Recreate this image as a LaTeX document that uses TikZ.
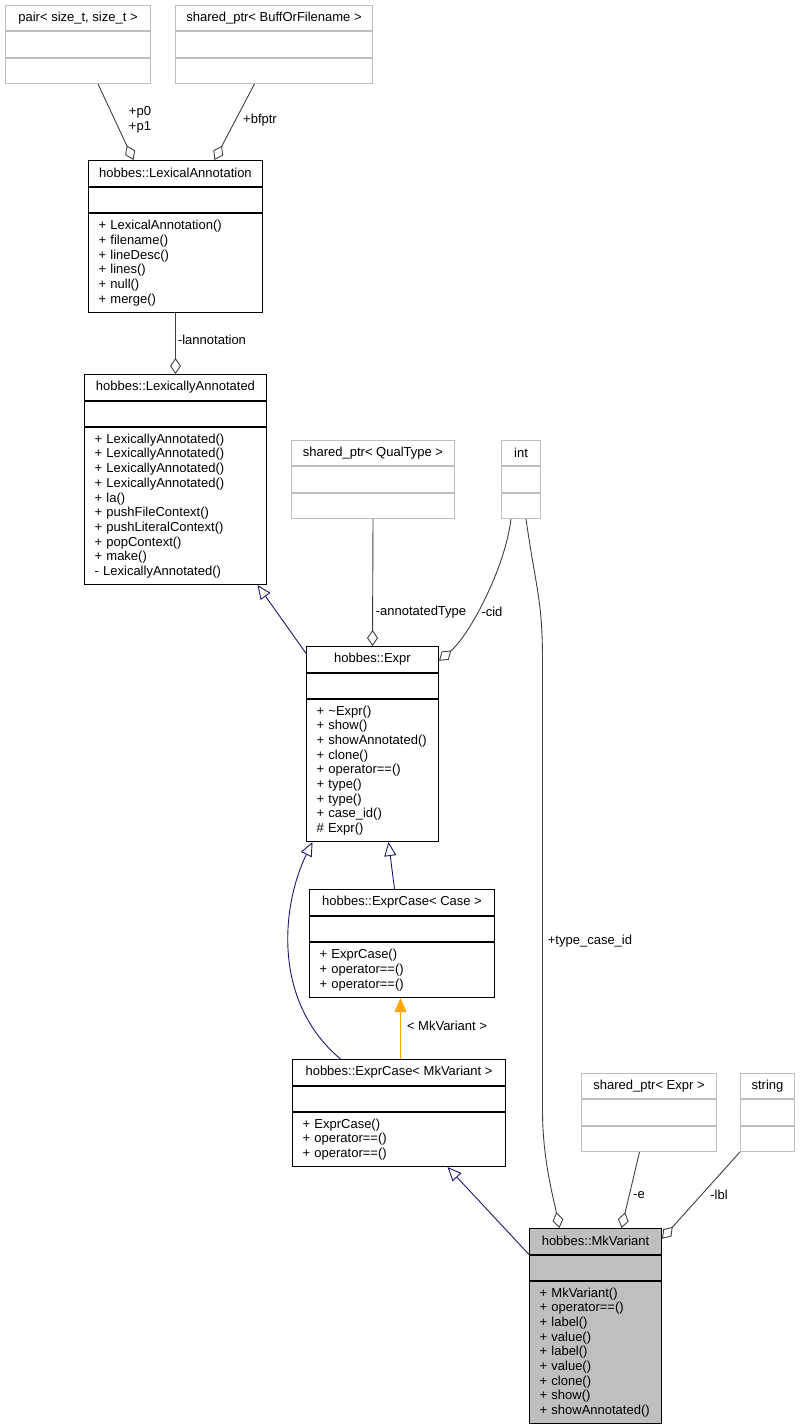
\documentclass[tikz,border=0pt]{standalone}
\usepackage{fontspec}
\setmainfont{Liberation Sans}
\usepackage{tikz}
\usetikzlibrary{positioning,arrows.meta}
\definecolor{assoc}{HTML}{404040}
\definecolor{inherit}{HTML}{191970}
\definecolor{extgray}{HTML}{BFBFBF}
\definecolor{tmplorange}{HTML}{FFA500}

\begin{document}
\begin{tikzpicture}[x=1pt,y=-1pt]
\tikzstyle{every node}+=[font=\fontsize{13}{14.7}\selectfont]
\tikzstyle{cls}=[draw=black,line width=1pt,fill=white,inner sep=2pt,minimum height=25.5pt]
\tikzstyle{ext}=[draw=extgray,line width=1pt,fill=white,inner sep=2pt,minimum height=25.3pt]
\tikzstyle{ops}=[cls,align=left,inner xsep=10pt]
\tikzstyle{aggr}=[draw=assoc,line width=0.9pt,-{Diamond[open,length=16pt,width=11pt]}]
\tikzstyle{inh}=[draw=inherit,line width=0.9pt,-{Triangle[open,length=14pt,width=12pt]}]
\tikzstyle{tmpl}=[draw=tmplorange,line width=0.9pt,-{Triangle[length=14pt,width=12pt,fill=tmplorange]}]
\fill[white] (0,0) rectangle (800,1428);
\useasboundingbox (0,0) rectangle (800,1428);
% external types
\node[ext,anchor=north west,minimum width=145pt] (pair) at (5,5) {pair< size\_t, size\_t >};
\node[ext,minimum width=145pt,below=0pt of pair] (pair-attr) {};
\node[ext,minimum width=145pt,below=0pt of pair-attr] (pair-ops) {};
\node[ext,anchor=north west,minimum width=197pt] (buff) at (175,5) {shared\_ptr< BuffOrFilename >};
\node[ext,minimum width=197pt,below=0pt of buff] (buff-attr) {};
\node[ext,minimum width=197pt,below=0pt of buff-attr] (buff-ops) {};
\node[ext,anchor=north west,minimum width=163pt] (qual) at (291,440) {shared\_ptr< QualType >};
\node[ext,minimum width=163pt,below=0pt of qual] (qual-attr) {};
\node[ext,minimum width=163pt,below=0pt of qual-attr] (qual-ops) {};
\node[ext,anchor=north west,minimum width=39pt] (int) at (501,440) {int};
\node[ext,minimum width=39pt,below=0pt of int] (int-attr) {};
\node[ext,minimum width=39pt,below=0pt of int-attr] (int-ops) {};
\node[ext,anchor=north west,minimum width=135pt] (eptr) at (581,1073) {shared\_ptr< Expr >};
\node[ext,minimum width=135pt,below=0pt of eptr] (eptr-attr) {};
\node[ext,minimum width=135pt,below=0pt of eptr-attr] (eptr-ops) {};
\node[ext,anchor=north west,minimum width=54pt] (str) at (740,1073) {string};
\node[ext,minimum width=54pt,below=0pt of str] (str-attr) {};
\node[ext,minimum width=54pt,below=0pt of str-attr] (str-ops) {};
% classes
\node[cls,anchor=north west,minimum width=174pt] (lexann) at (88,160) {hobbes::LexicalAnnotation};
\node[cls,minimum width=174pt,below=0pt of lexann] (lexann-attr) {};
\node[ops,text width=154pt,minimum height=99pt,below=0pt of lexann-attr] (lexann-ops) {+ LexicalAnnotation()\\+ filename()\\+ lineDesc()\\+ lines()\\+ null()\\+ merge()};
\node[cls,anchor=north west,minimum width=182pt] (lexannd) at (84,374) {hobbes::LexicallyAnnotated};
\node[cls,minimum width=182pt,below=0pt of lexannd] (lexannd-attr) {};
\node[ops,text width=162pt,minimum height=157pt,below=0pt of lexannd-attr] (lexannd-ops) {+ LexicallyAnnotated()\\+ LexicallyAnnotated()\\+ LexicallyAnnotated()\\+ LexicallyAnnotated()\\+ la()\\+ pushFileContext()\\+ pushLiteralContext()\\+ popContext()\\+ make()\\- LexicallyAnnotated()};
\node[cls,anchor=north west,minimum width=132pt] (expr) at (306,646) {hobbes::Expr};
\node[cls,minimum width=132pt,below=0pt of expr] (expr-attr) {};
\node[ops,text width=112pt,minimum height=142pt,below=0pt of expr-attr] (expr-ops) {+ \textasciitilde Expr()\\+ show()\\+ showAnnotated()\\+ clone()\\+ operator==()\\+ type()\\+ type()\\+ case\_id()\\\# Expr()};
\node[cls,anchor=north west,minimum width=185pt] (excase) at (309,889) {hobbes::ExprCase< Case >};
\node[cls,minimum width=185pt,below=0pt of excase] (excase-attr) {};
\node[ops,text width=165pt,minimum height=55pt,below=0pt of excase-attr] (excase-ops) {+ ExprCase()\\+ operator==()\\+ operator==()};
\node[cls,anchor=north west,minimum width=213pt] (exmk) at (292,1059) {hobbes::ExprCase< MkVariant >};
\node[cls,minimum width=213pt,below=0pt of exmk] (exmk-attr) {};
\node[ops,text width=193pt,minimum height=54pt,below=0pt of exmk-attr] (exmk-ops) {+ ExprCase()\\+ operator==()\\+ operator==()};
\node[cls,fill=extgray,anchor=north west,minimum width=132pt] (mkv) at (529,1228) {hobbes::MkVariant};
\node[cls,fill=extgray,minimum width=132pt,below=0pt of mkv] (mkv-attr) {};
\node[ops,fill=extgray,text width=112pt,minimum height=142pt,below=0pt of mkv-attr] (mkv-ops) {+ MkVariant()\\+ operator==()\\+ label()\\+ value()\\+ label()\\+ value()\\+ clone()\\+ show()\\+ showAnnotated()};
% members
\draw[aggr] ([xshift=20pt]pair-ops.south) -- ([xshift=-42pt]lexann.north);
\node[align=center] (lbl-p) at (140,120) {+p0\\+p1};
\draw[aggr] ([xshift=-19.5pt]buff-ops.south) -- ([xshift=39pt]lexann.north);
\node (lbl-bf) at (260,120) {+bfptr};
\draw[aggr] (lexann-ops.south) -- (lexannd.north);
\node (lbl-la) at (212,340) {-lannotation};
\draw[aggr] (qual-ops.south) -- (expr.north);
\node (lbl-at) at (421,612) {-annotatedType};
\draw[aggr] ([xshift=-10pt]int-ops.south) .. controls +(-6,50) and +(30,-25) .. ([yshift=-1.5pt]expr.east);
\node (lbl-cid) at (492,612) {-cid};
\coordinate (tc-top) at (542.5,660);
\coordinate (tc-bot) at (542.5,1110);
\draw[aggr] ([xshift=5pt]int-ops.south) .. controls +(10,70) and +(0,-60) .. (tc-top) -- (tc-bot) .. controls +(0,50) and +(-6,-30) .. ([xshift=-36pt]mkv.north);
\node (lbl-tc) at (590,941) {+type\_case\_id};
\draw[aggr] ([xshift=-9.5pt]eptr-ops.south) -- ([xshift=26pt]mkv.north);
\node (lbl-e) at (639,1195) {-e};
\draw[aggr] (str-ops.south west) -- ([yshift=2.5pt]mkv.east);
\node (lbl-lbl) at (719,1195) {-lbl};
% inheritance
\draw[inh] ([yshift=6pt]expr.west) -- ([xshift=82pt]lexannd-ops.south);
\draw[inh] ([xshift=-7.5pt]excase.north) -- ([xshift=16pt]expr-ops.south);
\draw[inh] ([xshift=-58.5pt]exmk.north) .. controls +(-70,-59) and +(-30,61) .. ([xshift=-60pt]expr-ops.south);
\draw[tmpl] ([xshift=1.5pt]exmk.north) -- ([xshift=-1.5pt]excase-ops.south);
\node (lbl-mk) at (447,1026) {< MkVariant >};
\draw[inh] (mkv.south west) -- ([xshift=48.5pt]exmk-ops.south);
\end{tikzpicture}
\end{document}
